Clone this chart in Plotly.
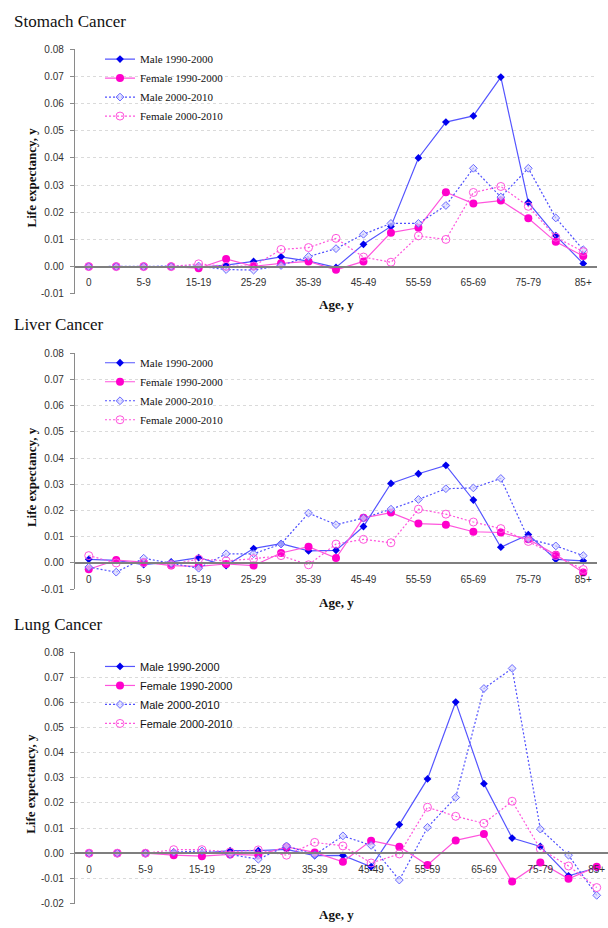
import plotly.graph_objects as go

ages = ["0", "1-4", "5-9", "10-14", "15-19", "20-24", "25-29", "30-34", "35-39", "40-44",
        "45-49", "50-54", "55-59", "60-64", "65-69", "70-74", "75-79", "80-84", "85+"]
shown_ticks = ["0", "5-9", "15-19", "25-29", "35-39", "45-49", "55-59", "65-69", "75-79", "85+"]

series_names = ["Male 1990-2000", "Female 1990-2000", "Male 2000-2010", "Female 2000-2010"]

stomach_male_1990 = [0, 0, 0, 0, -0.0003, 0.0005, 0.0019, 0.0036, 0.0020, -0.0003,
                     0.0082, 0.0148, 0.0400, 0.0532, 0.0555, 0.0698, 0.0236, 0.0114, 0.0011]
stomach_female_1990 = [0, 0, 0, 0, -0.0006, 0.0028, 0.0001, 0.0012, 0.0019, -0.0012,
                       0.0019, 0.0125, 0.0143, 0.0274, 0.0232, 0.0243, 0.0178, 0.0091, 0.0039]
stomach_male_2000 = [0, 0, 0, 0, 0.0002, -0.0011, -0.0013, 0.0004, 0.0037, 0.0066,
                     0.0119, 0.0159, 0.0159, 0.0225, 0.0362, 0.0256, 0.0362, 0.0179, 0.0062]
stomach_female_2000 = [0, 0, 0, 0, 0.0010, 0.0001, 0.0002, 0.0063, 0.0070, 0.0104,
                       0.0035, 0.0016, 0.0113, 0.0100, 0.0273, 0.0295, 0.0222, 0.0108, 0.0055]

liver_male_1990 = [0.0014, 0.0010, -0.0006, 0.0004, 0.0020, -0.0010, 0.0055, 0.0074, 0.0046, 0.0048,
                   0.0139, 0.0303, 0.0340, 0.0372, 0.0240, 0.0060, 0.0108, 0.0014, 0.0008]
liver_female_1990 = [-0.0024, 0.0011, 0.0003, -0.0010, -0.0013, -0.0004, -0.0010, 0.0038, 0.0062, 0.0019,
                     0.0172, 0.0192, 0.0150, 0.0146, 0.0119, 0.0116, 0.0090, 0.0031, -0.0036]
liver_male_2000 = [-0.0016, -0.0035, 0.0018, -0.0002, -0.0020, 0.0035, 0.0035, 0.0072, 0.0190, 0.0146,
                   0.0171, 0.0205, 0.0242, 0.0283, 0.0286, 0.0322, 0.0092, 0.0065, 0.0028]
liver_female_2000 = [0.0028, 0.0000, 0.0001, -0.0006, 0.0015, 0.0008, 0.0016, 0.0028, -0.0007, 0.0072,
                     0.0090, 0.0077, 0.0205, 0.0186, 0.0156, 0.0131, 0.0082, 0.0028, -0.0025]

lung_male_1990 = [0, 0, 0, 0.0003, 0.0000, 0.0010, 0.0010, 0.0015, -0.0010, -0.0009,
                  -0.0054, 0.0114, 0.0296, 0.0602, 0.0277, 0.0060, 0.0027, -0.0090, -0.0058]
lung_female_1990 = [0, 0, 0, -0.0008, -0.0012, -0.0005, -0.0008, 0.0025, 0.0003, -0.0034,
                    0.0050, 0.0026, -0.0047, 0.0051, 0.0076, -0.0113, -0.0037, -0.0102, -0.0054]
lung_male_2000 = [0, 0, 0, 0.0004, 0.0009, -0.0005, -0.0024, 0.0029, -0.0007, 0.0069,
                  0.0031, -0.0107, 0.0103, 0.0222, 0.0656, 0.0736, 0.0096, -0.0008, -0.0168]
lung_female_2000 = [0, 0, 0, 0.0014, 0.0014, 0.0005, 0.0013, -0.0008, 0.0043, 0.0029,
                    -0.0039, -0.0003, 0.0183, 0.0147, 0.0119, 0.0207, 0.0017, -0.0051, -0.0137]

W, H = 608, 928

panels = [
    dict(title="Stomach Cancer", data=[stomach_male_1990, stomach_female_1990, stomach_male_2000, stomach_female_2000],
         yr=(-0.01, 0.08), top=44.7, bot=292.0, left=75, right=597, xr=(-0.5, 18.5),
         title_y=17, xtitle_y=303, legend_top=40, legend_font="Liberation Serif"),
    dict(title="Liver Cancer", data=[liver_male_1990, liver_female_1990, liver_male_2000, liver_female_2000],
         yr=(-0.01, 0.08), top=351.7, bot=590.7, left=75, right=597, xr=(-0.5, 18.5),
         title_y=323, xtitle_y=604, legend_top=347, legend_font="Liberation Serif"),
    dict(title="Lung Cancer", data=[lung_male_1990, lung_female_1990, lung_male_2000, lung_female_2000],
         yr=(-0.02, 0.08), top=654.3, bot=908.3, left=75, right=608, xr=(-0.5, 18.4),
         title_y=626, xtitle_y=919, legend_top=654, legend_font="Liberation Sans"),
]

styles = [
    dict(line=dict(color="#5555ff", width=1.2), marker=dict(symbol="diamond", size=6, color="#0000ee")),
    dict(line=dict(color="#ff55dd", width=1.2), marker=dict(symbol="circle", size=8, color="#ff00cc")),
    dict(line=dict(color="#5050ff", width=1.2, dash="2px,2px"),
         marker=dict(symbol="diamond", size=6, color="rgba(215,215,255,0.7)", line=dict(color="#6a6aff", width=1))),
    dict(line=dict(color="#ff55dd", width=1.2, dash="2px,2px"),
         marker=dict(symbol="circle-open", size=8, color="#ff55dd", line=dict(width=1))),
]

fig = go.Figure()
layout = {}
annotations = []

for i, p in enumerate(panels):
    n = "" if i == 0 else str(i + 1)
    xa, ya = "x" + n, "y" + n
    leg = "legend" + n
    y0 = (H - p["bot"]) / H
    y1 = (H - p["top"]) / H
    ymin, ymax = p["yr"]
    zero_pos = y0 + (0 - ymin) / (ymax - ymin) * (y1 - y0)
    for k, (name, vals) in enumerate(zip(series_names, p["data"])):
        st = styles[k]
        fig.add_trace(go.Scatter(x=ages, y=vals, name=name, mode="lines+markers",
                                 line=st["line"], marker=st["marker"],
                                 xaxis=xa, yaxis=ya, legend=leg))
    yt = [round(ymin + 0.01 * j, 2) for j in range(int(round((ymax - ymin) / 0.01)) + 1)]
    layout["xaxis" + n] = dict(
        domain=[p["left"] / W, p["right"] / W], anchor="free", position=zero_pos,
        type="category", categoryorder="array", categoryarray=ages,
        range=list(p["xr"]), tickvals=shown_ticks, ticktext=shown_ticks,
        showgrid=False, zeroline=False, showline=True, linecolor="#7f7f7f", linewidth=1.6,
        ticks="", ticklabelstandoff=7,
        tickfont=dict(family="Liberation Sans", size=10, color="#333333"),
    )
    layout["yaxis" + n] = dict(
        domain=[y0, y1], anchor=xa, range=[ymin - 0.00005, ymax + 0.00005],
        tickvals=yt, ticktext=[f"{v:.2f}" for v in yt],
        showgrid=True, gridcolor="#dadada", griddash="dot", gridwidth=1,
        zeroline=False, showline=True, linecolor="#8a8a8a", linewidth=1.4,
        ticks="outside", ticklen=4, tickcolor="#8a8a8a", ticklabelstandoff=4,
        tickfont=dict(family="Liberation Sans", size=10, color="#333333"),
    )
    layout[leg] = dict(
        x=100 / W, y=(H - p["legend_top"]) / H, xanchor="left", yanchor="top",
        bgcolor="rgba(0,0,0,0)", borderwidth=0, itemwidth=30,
        font=dict(family=p["legend_font"], size=11, color="#111111"),
        tracegroupgap=0,
    )
    annotations.append(dict(text=p["title"], x=12 / W, y=(H - p["title_y"]) / H, xref="paper", yref="paper",
                            xanchor="left", yanchor="middle", showarrow=False,
                            font=dict(family="Liberation Serif", size=17, color="#111111")))
    annotations.append(dict(text="<b>Age, y</b>", x=((p["left"] + min(p["right"], 597)) / 2) / W,
                            y=(H - p["xtitle_y"]) / H, xref="paper", yref="paper",
                            xanchor="center", yanchor="middle", showarrow=False,
                            font=dict(family="Liberation Serif", size=13, color="#111111")))
    annotations.append(dict(text="<b>Life expectancy, y</b>", x=31 / W,
                            y=(H - (p["top"] + p["bot"]) / 2 - 6) / H, xref="paper", yref="paper",
                            xanchor="center", yanchor="middle", showarrow=False, textangle=-90,
                            font=dict(family="Liberation Serif", size=13, color="#111111")))

fig.update_layout(
    width=W, height=H, margin=dict(l=0, r=0, t=0, b=0),
    paper_bgcolor="white", plot_bgcolor="white",
    annotations=annotations, showlegend=True, **layout,
)

fig.write_html("out.html", config={"displayModeBar": False},
               post_script="document.body.style.margin='0';document.body.style.overflow='hidden';")
